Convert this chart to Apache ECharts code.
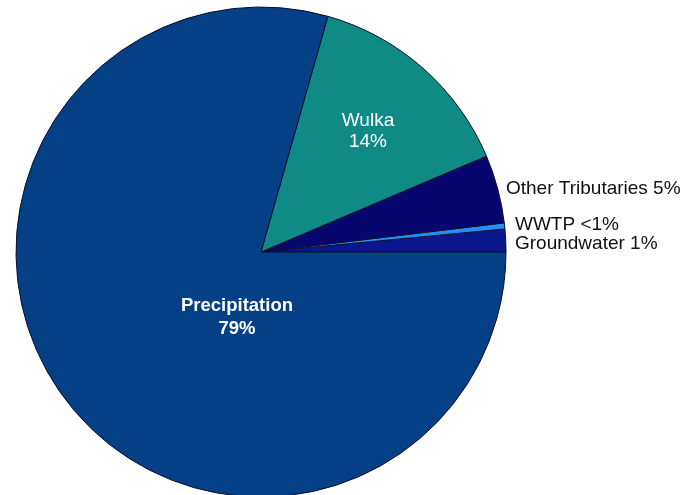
<!DOCTYPE html>
<html>
<head>
<meta charset="utf-8">
<script src="https://cdn.jsdelivr.net/npm/echarts@6/dist/echarts.min.js"></script>
<style>
html,body{margin:0;padding:0;background:#fff;}
#chart{width:685px;height:495px;}
</style>
</head>
<body>
<div id="chart"></div>
<script>
// Data (order: counterclockwise from 3 o'clock)
var categories = ['Groundwater', 'WWTP', 'Other Tributaries', 'Wulka', 'Precipitation'];
var values = [1.5, 0.4, 4.5, 14.2, 79.4];
var percentLabels = ['1%', '<1%', '5%', '14%', '79%'];
var colors = ['#0a168c', '#2a8cf0', '#06066e', '#108a84', '#053f86'];

var chart = echarts.init(document.getElementById('chart'), null, {renderer: 'canvas'});

// label placement (text only)
var labelSpec = {
  'Groundwater':       {x: 515, y: 244, align: 'left',   inside: false, sep: ' '},
  'WWTP':              {x: 515, y: 225, align: 'left',   inside: false, sep: ' '},
  'Other Tributaries': {x: 506, y: 189, align: 'left',   inside: false, sep: ' '},
  'Wulka':             {x: 368, y: 131, align: 'center', inside: true,  sep: '\n'},
  'Precipitation':     {x: 237, y: 317, align: 'center', inside: true,  sep: '\n'}
};

var data = categories.map(function (c, i) {
  var s = labelSpec[c];
  return {
    name: c,
    value: values[i],
    itemStyle: {color: colors[i]},
    label: {
      show: true,
      formatter: c + s.sep + percentLabels[i],
      color: s.inside ? '#ffffff' : '#111111',
      fontFamily: 'Liberation Sans, Arial, sans-serif',
      fontSize: c === 'Precipitation' ? 18.5 : 19,
      fontWeight: c === 'Precipitation' ? 'bold' : 'normal',
      lineHeight: c === 'Precipitation' ? 23 : 21,
      align: s.align
    },
    labelLine: {show: false}
  };
});

chart.setOption({
  animation: false,
  backgroundColor: '#ffffff',
  series: [{
    type: 'pie',
    center: [261, 252],
    radius: 245,
    startAngle: 0,
    clockwise: false,
    avoidLabelOverlap: false,
    emphasis: {disabled: true},
    itemStyle: {borderColor: '#0b1030', borderWidth: 1},
    label: {position: 'outside'},
    labelLine: {show: false},
    labelLayout: function (params) {
      var s = labelSpec[categories[params.dataIndex]];
      return {x: s.x, y: s.y, align: s.align, verticalAlign: 'middle', hideOverlap: false, moveOverlap: false};
    },
    data: data
  }]
});
</script>
</body>
</html>
